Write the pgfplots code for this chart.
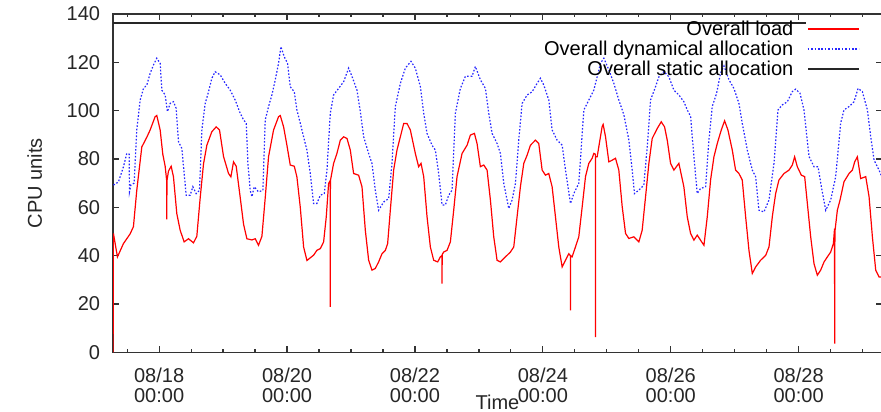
\documentclass[border=0pt]{standalone}
\usepackage{fontspec}
\setmainfont{Liberation Sans}
\usepackage{pgfplots}
\pgfplotsset{compat=1.18}

% x: days since 08/18 00:00
\begin{document}
\begin{tikzpicture}
\begin{axis}[
    scale only axis,
    width=384pt, height=169pt,
    xmin=-0.72, xmax=11.30, ymin=0, ymax=140,
    xtick={0,2,4,6,8,10},
    xticklabels={{08/18\\[-2pt]00:00},{08/20\\[-2pt]00:00},{08/22\\[-2pt]00:00},
                 {08/24\\[-2pt]00:00},{08/26\\[-2pt]00:00},{08/28\\[-2pt]00:00}},
    minor xtick={-0.5,0,...,11},
    ytick={0,20,...,140},
    major tick length=3pt, minor tick length=1.5pt,
    tick style={black!80, line width=0.6pt},
    axis line style={black!80, line width=0.7pt},
    /pgf/number format/assume math mode=true,
    every tick label/.append style={font=\fontsize{10}{12}\selectfont, text=black!85},
    xticklabel style={align=center, yshift=-4.5pt},
    yticklabel style={xshift=-3pt},
    xlabel={Time},
    xlabel style={at={(axis description cs:0.5,0)}, anchor=base, yshift=-28.6pt,
                  font=\fontsize{10}{12}\selectfont, text=black!85},
    ylabel={CPU units},
    ylabel style={at={(axis description cs:-0.0925,0.5)}, anchor=base,
                  font=\fontsize{10}{12}\selectfont, text=black!85},
    legend plot pos=none,
    legend cell align=right,
    legend style={draw=none, fill=none, inner sep=0pt, row sep=0pt,
                  at={(axis description cs:1,1)}, anchor=north east,
                  xshift=-44pt, yshift=-3pt,
                  font=\fontsize{10}{12}\selectfont,
                  nodes={inner sep=0pt, text height=7.5pt, text depth=2.5pt}},
]
\addplot[red, line width=0.6pt] coordinates {
(-0.720,0) (-0.715,49.2) (-0.652,39.5) (-0.558,45) (-0.454,49) (-0.402,52) (-0.350,67)
(-0.271,85) (-0.193,89) (-0.141,92) (-0.063,97.5) (-0.037,98) (0.016,92) (0.057,82)
(0.094,77) (0.118,71) (0.120,55) (0.122,71) (0.146,75) (0.188,77) (0.224,72.6) (0.276,57.4)
(0.329,50.5) (0.391,45.7) (0.459,47) (0.537,45.3) (0.589,48) (0.642,64) (0.694,78)
(0.746,85.7) (0.824,91.3) (0.892,93.3) (0.944,92) (1.007,81) (1.085,74) (1.122,72.6)
(1.163,78.8) (1.205,77) (1.268,64) (1.320,53) (1.372,47) (1.450,46.5) (1.502,47)
(1.554,44.3) (1.607,48) (1.659,64) (1.711,81) (1.789,92) (1.867,97.5) (1.894,98)
(1.946,93.3) (1.998,85.7) (2.050,77.5) (2.113,77) (2.154,72.6) (2.207,60) (2.259,43.6)
(2.311,38) (2.415,40.2) (2.467,42.2) (2.520,42.9) (2.572,45.7) (2.613,56) (2.650,69.9)
(2.674,71) (2.676,18.8) (2.678,71) (2.728,78.2) (2.780,82.3) (2.833,87.8) (2.885,89.2)
(2.937,88.5) (2.989,83.7) (3.041,74) (3.119,73.3) (3.172,68.5) (3.224,50.5) (3.276,38.1)
(3.328,34) (3.380,34.7) (3.432,37.4) (3.485,40.8) (3.537,42.2) (3.573,45) (3.615,58.8)
(3.667,75.4) (3.719,83.7) (3.772,89.2) (3.824,94.7) (3.876,94.7) (3.928,92) (4.006,82.3)
(4.058,76.8) (4.095,78.2) (4.137,72.7) (4.189,56.1) (4.241,43.6) (4.293,38.1) (4.356,37.4)
(4.397,39.5) (4.422,40) (4.424,28.4) (4.426,40.5) (4.450,41.5) (4.502,42.2) (4.554,45.7)
(4.606,58.8) (4.658,72.7) (4.737,82.3) (4.815,85.7) (4.867,89.9) (4.930,90.6) (4.971,86.4)
(5.023,76.8) (5.076,77.5) (5.128,75.4) (5.180,63) (5.232,47.8) (5.284,38.1) (5.336,37.4)
(5.415,39.5) (5.493,41.5) (5.545,43.6) (5.597,56.1) (5.649,68.5) (5.702,78.2) (5.754,81.6)
(5.806,85.7) (5.884,87.8) (5.936,86.4) (5.989,75.4) (6.041,73.3) (6.093,74) (6.145,68.5)
(6.197,56.1) (6.249,43.6) (6.302,35.3) (6.354,38.1) (6.406,40.8) (6.430,40) (6.432,17.4)
(6.434,40) (6.458,39.5) (6.510,43.6) (6.562,47.8) (6.615,60.2) (6.667,72.7) (6.719,78.2)
(6.771,80.3) (6.797,82.3) (6.821,82) (6.823,6.3) (6.825,81) (6.849,80.9) (6.927,93.4)
(6.943,94.3) (6.980,89.2) (7.032,78.8) (7.084,79.5) (7.136,80.3) (7.188,75.4) (7.241,60.2)
(7.293,49.2) (7.345,47.1) (7.423,47.8) (7.501,45.7) (7.553,50.5) (7.606,64.4) (7.658,78.2)
(7.710,88.5) (7.788,92.6) (7.851,95.4) (7.903,93.3) (7.945,87.8) (7.997,78.2) (8.049,75.4)
(8.127,78.2) (8.205,68.5) (8.258,56.1) (8.310,49.2) (8.362,46.4) (8.414,48.5) (8.466,46.4)
(8.519,44.3) (8.571,56.1) (8.623,71.3) (8.675,80.9) (8.727,86.4) (8.790,92) (8.842,95.8)
(8.894,92) (8.962,83.7) (9.014,75.4) (9.066,74) (9.118,71.3) (9.171,56.1) (9.223,42.2)
(9.275,32.6) (9.327,35.3) (9.405,38.1) (9.484,40.1) (9.536,43.6) (9.588,56.1) (9.640,65.7)
(9.692,71.3) (9.771,74) (9.849,75.4) (9.901,77.5) (9.937,80.9) (9.979,76.8) (10.042,73.3)
(10.094,72.7) (10.136,61.6) (10.188,47.8) (10.240,36.7) (10.292,31.9) (10.344,34)
(10.397,37.4) (10.449,39.5) (10.501,41.5) (10.543,45) (10.561,51.2) (10.563,3.6)
(10.567,50) (10.605,58.8) (10.647,63) (10.709,70.6) (10.788,74) (10.840,75.4) (10.876,78.8)
(10.918,80.9) (10.970,71.9) (11.049,72.7) (11.101,64.4) (11.153,47.8) (11.205,34)
(11.257,31.2) (11.299,31.2)
};
\addlegendentry{Overall load}
\addplot[blue!85, line width=0.6pt, dash pattern=on 0.8pt off 0.9pt] coordinates {
(-0.715,69.2) (-0.636,70.5) (-0.558,76.8) (-0.506,82.3) (-0.469,82) (-0.464,66.4)
(-0.443,69.2) (-0.391,70) (-0.350,92) (-0.297,104.4) (-0.245,109.2) (-0.193,110.6)
(-0.141,115.4) (-0.089,118.9) (-0.037,121.7) (0.016,119.6) (0.042,108.5) (0.094,106.5)
(0.130,99.6) (0.172,103) (0.224,103.7) (0.266,101) (0.303,87.1) (0.355,84.4) (0.391,74)
(0.423,65) (0.485,65) (0.527,68.5) (0.579,65.7) (0.631,67) (0.668,92) (0.720,103)
(0.772,107.8) (0.824,113.4) (0.876,116.1) (0.955,114.8) (1.033,111.3) (1.111,108.5)
(1.189,104.4) (1.268,98.9) (1.320,96.2) (1.362,94.8) (1.388,78.2) (1.424,67.1) (1.450,64.4)
(1.487,68.5) (1.554,66.4) (1.622,67) (1.659,96.2) (1.711,101.7) (1.763,106.5) (1.815,112.7)
(1.867,119.6) (1.904,126.5) (1.956,122.3) (2.008,119.6) (2.050,109.9) (2.113,107.8)
(2.154,100.3) (2.207,94.8) (2.259,89.2) (2.311,83.7) (2.363,74) (2.415,61.6) (2.467,61.6)
(2.520,65) (2.582,65.7) (2.624,75.4) (2.676,98.9) (2.728,106.5) (2.806,109.2) (2.885,112)
(2.963,117.6) (3.015,114.2) (3.093,108.5) (3.146,99.6) (3.198,89.2) (3.276,82.3) (3.328,78.2)
(3.380,67.1) (3.432,58.8) (3.511,62.2) (3.589,63.6) (3.641,78.2) (3.693,101.7) (3.772,111.3)
(3.850,117.6) (3.938,120.4) (4.006,117.6) (4.085,109.9) (4.137,98.9) (4.189,90.6)
(4.267,85.7) (4.319,83.7) (4.371,74) (4.424,61) (4.476,61) (4.528,65) (4.580,67.1)
(4.632,98.9) (4.710,109.2) (4.789,114.2) (4.893,114.2) (4.945,118.3) (5.023,112.8)
(5.102,109.2) (5.154,98.9) (5.206,90.6) (5.284,86.4) (5.336,82.3) (5.389,69.9) (5.467,59.5)
(5.519,63) (5.571,69.9) (5.623,87.8) (5.676,103) (5.754,106.5) (5.832,107.8) (5.910,111.3)
(5.962,113.4) (6.015,110.6) (6.093,104.4) (6.145,92) (6.223,87.8) (6.302,85.7) (6.354,75.4)
(6.432,61.6) (6.484,65.7) (6.562,69.9) (6.641,100.3) (6.719,104.4) (6.797,108.5) (6.849,114)
(6.901,119.6) (6.954,121.7) (7.032,116.9) (7.110,111.3) (7.188,104.4) (7.267,98.3)
(7.345,87.8) (7.397,75.4) (7.433,65.7) (7.501,67.1) (7.579,69.2) (7.632,85) (7.684,104.4)
(7.762,109.9) (7.814,114) (7.892,116.2) (7.971,114) (8.049,108.5) (8.127,106.5)
(8.205,103.7) (8.258,100.3) (8.310,97.6) (8.362,81) (8.414,65.7) (8.466,67.8) (8.545,68.5)
(8.597,87.8) (8.649,101.7) (8.717,107.2) (8.779,115.5) (8.832,118.5) (8.910,112.8)
(8.988,109.2) (9.066,103) (9.118,94.8) (9.197,83.7) (9.275,75.4) (9.327,72.7) (9.379,58.8)
(9.458,58.1) (9.536,63) (9.614,78.2) (9.677,100.3) (9.745,102.4) (9.823,103.7) (9.901,107.9)
(9.953,108.9) (10.021,107.2) (10.083,100.3) (10.162,81) (10.240,76.8) (10.303,76.8)
(10.355,68.5) (10.423,58.8) (10.501,63) (10.579,72.7) (10.657,94.8) (10.709,100.3)
(10.788,101.7) (10.866,103.7) (10.929,109.2) (10.996,107.9) (11.075,100.3) (11.127,89.2)
(11.179,79.5) (11.257,75.4) (11.299,72.7)
};
\addlegendentry{Overall dynamical allocation}
\addplot[black!85, line width=1.3pt] coordinates {(-0.72,136.3) (10.11,136.3)};
\addlegendentry{Overall static allocation}
\end{axis}
% legend samples, right of the legend texts (gnuplot style key)
\fill[red] ([xshift=-37pt,yshift=-7.8pt]current axis.north east)
    rectangle ++(25.5pt,0.6pt);
\draw[blue!85, line width=0.6pt, dash pattern=on 0.8pt off 0.9pt]
    ([xshift=-37pt,yshift=-17.5pt]current axis.north east) -- ++(25.5pt,0);
\fill[black!85] ([xshift=-37pt,yshift=-28.15pt]current axis.north east)
    rectangle ++(25.5pt,1.3pt);
\pgfresetboundingbox
\useasboundingbox ([xshift=-56.5pt,yshift=-29.5pt]current axis.south west)
    rectangle ([xshift=-0.4pt,yshift=7pt]current axis.north east);
\end{tikzpicture}
\end{document}
